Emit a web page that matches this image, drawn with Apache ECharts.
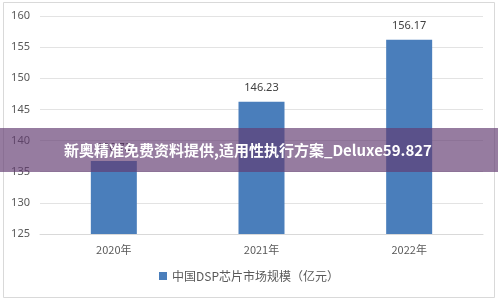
<!DOCTYPE html>
<html>
<head>
<meta charset="utf-8">
<script src="https://cdn.jsdelivr.net/npm/echarts@6/dist/echarts.min.js"></script>
<style>
html,body{margin:0;padding:0;background:#fff;}
#c{width:498px;height:300px;}
</style>
</head>
<body>
<div id="c"></div>
<script>
var categories = ['2020年', '2021年', '2022年'];
var marketSize = [136.72, 146.23, 156.17];
var seriesName = '中国DSP芯片市场规模（亿元）';
var bannerText = '新奥精准免费资料提供,适用性执行方案_Deluxe59.827';
var yMin = 125, yMax = 160, yStep = 5;

var chart = echarts.init(document.getElementById('c'), null, {renderer: 'canvas'});
chart.setOption({
  animation: false,
  backgroundColor: '#fff',
  grid: {left: 40, right: 15, top: 16, bottom: 66, containLabel: false},
  legend: {
    data: [seriesName],
    bottom: 13,
    left: 'center',
    itemWidth: 8, itemHeight: 8, itemGap: 6,
    icon: 'rect',
    textStyle: {color: '#595959', fontSize: 12, fontFamily: 'Noto Sans CJK SC'}
  },
  xAxis: {
    type: 'category',
    data: categories,
    axisLine: {lineStyle: {color: '#d9d9d9'}},
    axisTick: {show: false},
    axisLabel: {color: '#595959', fontSize: 11, margin: 10, fontFamily: 'Noto Sans CJK SC'}
  },
  yAxis: {
    type: 'value',
    min: yMin, max: yMax, interval: yStep,
    axisLine: {show: false},
    axisTick: {show: false},
    splitLine: {lineStyle: {color: '#e3e3e3'}},
    axisLabel: {color: '#595959', fontSize: 11, margin: 10, fontFamily: 'Noto Sans'}
  },
  series: [{
    name: seriesName,
    type: 'bar',
    data: marketSize,
    barWidth: 46,
    itemStyle: {color: '#4a7ebb'},
    label: {show: true, position: 'top', distance: 8, color: '#404040', fontSize: 11, fontFamily: 'Noto Sans'}
  }],
  graphic: [
    {type: 'rect', shape: {x: 3.5, y: 2.5, width: 491, height: 295}, style: {fill: 'none', stroke: '#d9d9d9', lineWidth: 1}, silent: true},
    {type: 'rect', z: 100, shape: {x: 0, y: 128, width: 498, height: 44}, style: {fill: 'rgba(98,59,114,0.67)'}, silent: true},
    {type: 'text', z: 101, x: 248, y: 150, style: {text: bannerText, fill: '#fff', fontSize: 15, fontWeight: 'bold', fontFamily: 'Noto Sans CJK SC', align: 'center', verticalAlign: 'middle'}, silent: true}
  ]
});
</script>
</body>
</html>
